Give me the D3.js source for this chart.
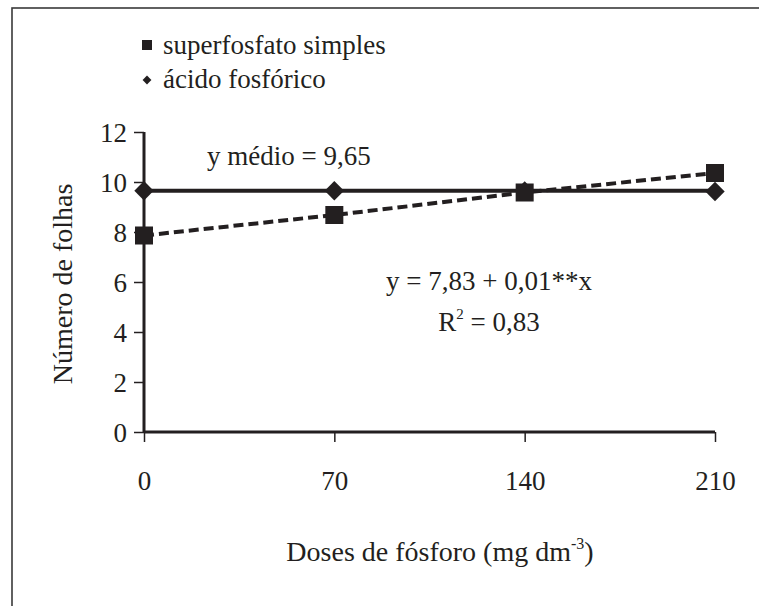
<!DOCTYPE html>
<html>
<head>
<meta charset="utf-8">
<script src="https://cdn.jsdelivr.net/npm/d3@7"></script>
</head>
<body style="margin:0">
<div id="chart"></div>
<script>
// data
var doses = [0, 70, 140, 210];
var superfosfato = [7.86, 8.68, 9.58, 10.36];
var acidoFosforico = [9.65, 9.65, 9.64, 9.62];
var yMedio = 9.65;
var xTicks = [0, 70, 140, 210];
var yTicks = [0, 2, 4, 6, 8, 10, 12];

var ink = "#231f20";
var W = 759, H = 606;

var svg = d3.select("#chart")
    .append("svg")
    .attr("width", W)
    .attr("height", H)
    .attr("font-family", "Liberation Serif")
    .style("font-family", "'Liberation Serif'");

svg.append("style").text("text, tspan { font-family: 'Liberation Serif', 'Times New Roman', Tinos !important; }");

// helper so every label gets the same serif face
function label(sel, size) {
    return sel.append("text")
        .style("font-family", "'Liberation Serif'")
        .style("font-size", size + "px")
        .style("fill", ink);
}

// outer frame (runs off the right and bottom edges)
svg.append("rect")
    .attr("x", 12).attr("y", 8)
    .attr("width", 800).attr("height", 700)
    .attr("fill", "none")
    .attr("stroke", "#3a3a3a")
    .attr("stroke-width", 1.6);

var x = d3.scaleLinear().domain([0, 210]).range([144, 715]);
var y = d3.scaleLinear().domain([0, 12]).range([432, 132]);

// y axis
var yAxis = svg.append("g")
    .attr("transform", "translate(" + x(0) + ",0)")
    .call(d3.axisLeft(y).tickValues(yTicks).tickSize(10).tickPadding(7).tickFormat(d3.format("d")));
yAxis.attr("font-family", null).attr("font-size", 27);
yAxis.select(".domain").attr("stroke", ink).attr("stroke-width", 3).attr("d", "M0," + y(12) + "V" + y(0));
yAxis.selectAll(".tick line").attr("stroke", ink).attr("stroke-width", 1.5);
yAxis.selectAll(".tick text")
    .style("font-family", "'Liberation Serif'").style("font-size", "27px").style("fill", ink)
    .attr("dy", "0.34em");

// x axis
var xAxis = svg.append("g")
    .attr("transform", "translate(0," + y(0) + ")")
    .call(d3.axisBottom(x).tickValues(xTicks).tickSize(10).tickPadding(29));
xAxis.attr("font-family", null).attr("font-size", 27);
xAxis.select(".domain").attr("stroke", ink).attr("stroke-width", 3).attr("d", "M" + x(0) + ",0H" + x(210));
xAxis.selectAll(".tick line").attr("stroke", ink).attr("stroke-width", 1.5);
xAxis.selectAll(".tick text")
    .style("font-family", "'Liberation Serif'").style("font-size", "27px").style("fill", ink);

// axis titles
label(svg, 28)
    .attr("transform", "translate(72,284) rotate(-90)")
    .style("text-anchor", "middle")
    .text("Número de folhas");

var xt = label(svg, 28)
    .attr("x", 440).attr("y", 561)
    .style("text-anchor", "middle");
xt.append("tspan").text("Doses de fósforo (mg dm");
xt.append("tspan").attr("dy", -12).style("font-size", "16px").text("-3");
xt.append("tspan").attr("dy", 12).text(")");

// mean line for ácido fosfórico
svg.append("line")
    .attr("x1", x(0)).attr("x2", x(210))
    .attr("y1", y(yMedio)).attr("y2", y(yMedio))
    .attr("stroke", ink).attr("stroke-width", 4);

// superfosfato line (dashed)
var line = d3.line()
    .x(function (d, i) { return x(doses[i]); })
    .y(function (d) { return y(d); });

svg.append("path")
    .datum(superfosfato)
    .attr("d", line)
    .attr("fill", "none")
    .attr("stroke", ink)
    .attr("stroke-width", 4)
    .attr("stroke-dasharray", "10,5");

// diamond markers
svg.selectAll(".diamond")
    .data(acidoFosforico)
    .enter().append("path")
    .attr("class", "diamond")
    .attr("d", d3.symbol().type(d3.symbolDiamond2).size(240))
    .attr("transform", function (d, i) { return "translate(" + x(doses[i]) + "," + y(d) + ")"; })
    .attr("fill", ink);

// square markers
svg.selectAll(".square")
    .data(superfosfato)
    .enter().append("rect")
    .attr("class", "square")
    .attr("x", function (d, i) { return x(doses[i]) - 9; })
    .attr("y", function (d) { return y(d) - 9; })
    .attr("width", 18).attr("height", 18)
    .attr("fill", ink);

// legend
svg.append("rect")
    .attr("x", 142).attr("y", 40).attr("width", 10).attr("height", 10)
    .attr("fill", ink);
label(svg, 27).attr("x", 163).attr("y", 54).text("superfosfato simples");
svg.append("path")
    .attr("d", d3.symbol().type(d3.symbolDiamond2).size(50))
    .attr("transform", "translate(147,80)")
    .attr("fill", ink);
label(svg, 27).attr("x", 163).attr("y", 88).text("ácido fosfórico");

// annotations
label(svg, 27).attr("x", 207).attr("y", 165).text("y médio = 9,65");

label(svg, 27).attr("x", 489).attr("y", 290)
    .style("text-anchor", "middle")
    .text("y = 7,83 + 0,01**x");

var r2 = label(svg, 27).attr("x", 489).attr("y", 331)
    .style("text-anchor", "middle");
r2.append("tspan").text("R");
r2.append("tspan").attr("dy", -12).style("font-size", "15px").text("2");
r2.append("tspan").attr("dy", 12).text(" = 0,83");
</script>
</body>
</html>
